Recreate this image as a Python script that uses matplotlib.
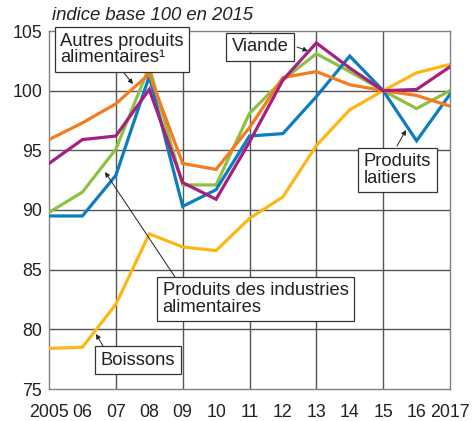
import matplotlib
matplotlib.use("Agg")
import matplotlib.pyplot as plt

plt.rcParams['font.family'] = ['Liberation Sans', 'DejaVu Sans']

years = list(range(2005, 2018))
year_labels = ["2005", "06", "07", "08", "09", "10", "11", "12", "13", "14", "15", "16", "2017"]

boissons = [78.4, 78.5, 82.1, 88.0, 86.9, 86.6, 89.3, 91.1, 95.4, 98.4, 100.0, 101.5, 102.2]
laitiers = [89.5, 89.5, 92.9, 101.2, 90.3, 91.7, 96.2, 96.4, 99.5, 102.9, 100.0, 95.8, 99.7]
industries = [89.8, 91.5, 95.1, 102.0, 92.1, 92.1, 98.1, 100.9, 103.1, 101.6, 100.0, 98.5, 100.0]
autres = [95.9, 97.3, 98.9, 101.4, 93.9, 93.4, 96.9, 101.1, 101.6, 100.5, 100.0, 99.6, 98.7]
viande = [93.9, 95.9, 96.2, 100.1, 92.3, 90.9, 95.7, 100.9, 104.0, 101.9, 100.0, 100.1, 102.0]

yticks = [75, 80, 85, 90, 95, 100, 105]

W, H = 475, 421
fig = plt.figure(figsize=(W / 100, H / 100), dpi=100)
L, R, T, B = 49, 450, 31, 389
ax = fig.add_axes([L / W, 1 - B / H, (R - L) / W, (B - T) / H])

ax.set_xlim(2005, 2017)
ax.set_ylim(75, 105)

grid_c = '#555555'
for y in yticks[1:-1]:
    ax.axhline(y, color=grid_c, lw=1.0, zorder=1)
for x in [2007, 2009, 2011, 2013, 2015]:
    ax.axvline(x, color=grid_c, lw=1.0, zorder=1)

lw = 2.3
ax.plot(years, boissons, color='#FDB714', lw=lw, zorder=3, solid_joinstyle='miter')
ax.plot(years, laitiers, color='#0B7DC1', lw=lw, zorder=4, solid_joinstyle='miter')
ax.plot(years, industries, color='#8DC043', lw=lw, zorder=3.5, solid_joinstyle='miter')
ax.plot(years, autres, color='#F47B20', lw=lw, zorder=5, solid_joinstyle='miter')
ax.plot(years, viande, color='#A8207F', lw=lw, zorder=6, solid_joinstyle='miter')

for s in ax.spines.values():
    s.set_color('#808080')
    s.set_linewidth(1.0)

ax.set_xticks(years)
ax.set_xticklabels(year_labels)
ax.set_yticks(yticks)
ax.tick_params(axis='both', length=0, labelsize=12.8, colors='#222222')
ax.tick_params(axis='x', pad=11)
ax.tick_params(axis='y', pad=5)
ax.set_xticks([2006, 2008, 2010, 2012, 2014, 2016], minor=True)
ax.tick_params(axis='x', which='minor', direction='in', length=7, width=1.0, color='#555555')


def px(x, y):
    return (2005 + (x - L) / (R - L) * 12, 105 - (y - T) / (B - T) * 30)


fs = 13.2
box = dict(boxstyle='square,pad=0.3', fc='white', ec='#333333', lw=0.9)
labels = [
    ("Autres produits\nalimentaires¹", (122, 49.5)),
    ("Viande", (260, 46.5)),
    ("Produits\nlaitiers", (397.5, 170)),
    ("Produits des industries\nalimentaires", (255.5, 299)),
    ("Boissons", (138, 360.5)),
]
for txt, (cx, cy) in labels:
    ax.text(*px(cx, cy), txt, ha='center', va='center', multialignment='left',
            fontsize=fs, color='#222222', bbox=box, zorder=10, linespacing=0.95)

arrows = [
    ((120, 68), (133, 84)),
    ((297, 47), (308, 51)),
    ((397, 146), (406, 130)),
    ((175, 277), (105, 172)),
    ((103, 346), (96, 334)),
]
for tail, tip in arrows:
    ax.annotate('', xy=px(*tip), xytext=px(*tail),
                arrowprops=dict(arrowstyle='-|>', lw=0.7, color='#222222',
                                mutation_scale=7, shrinkA=0, shrinkB=0), zorder=9)

fig.text(52 / W, 1 - 15 / H, "indice base 100 en 2015", style='italic',
         fontsize=13.3, ha='left', va='center', color='#222222')

fig.savefig('out.png', dpi=100)
